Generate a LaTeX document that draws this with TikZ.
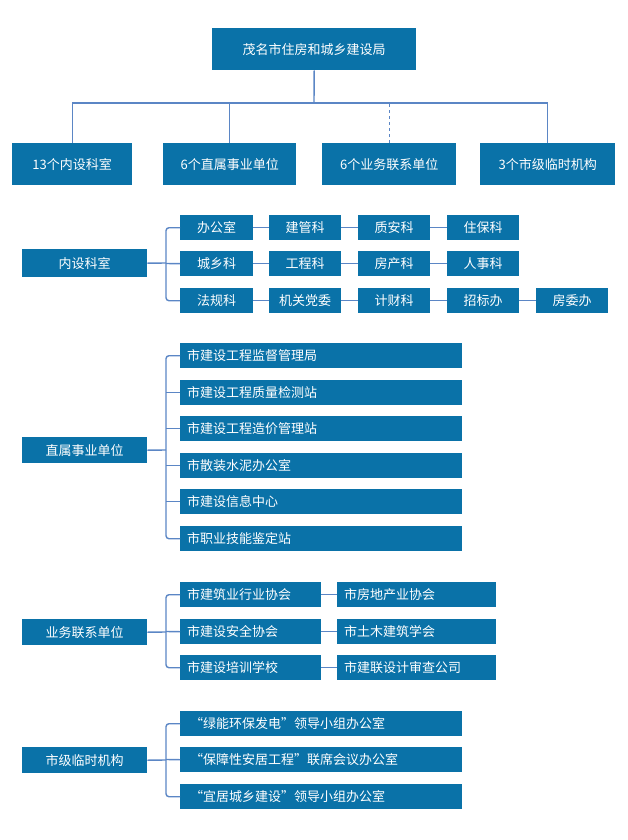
\documentclass[tikz,border=0pt]{standalone}
\usepackage{fontspec}
\newfontfamily\cjk{Noto Sans CJK SC}
\begin{document}
\begin{tikzpicture}[x=1pt,y=-1pt,
  bx/.style={fill=boxc,draw=none,text=white,inner sep=0pt,font=\cjk\fontsize{13}{15}\selectfont},
  ln/.style={draw=linec,line width=1.4pt},
  rl/.style={ln,rounded corners=3pt}]
\definecolor{boxc}{HTML}{0A72A8}
\definecolor{linec}{HTML}{5B86C5}
\useasboundingbox (0,0) rectangle (628,840);
\newcommand\bxc[6]{\node[bx,minimum width=#3-#2,minimum height=#5-#4,anchor=north west] (#1) at (#2,#4) {#6};}
\newcommand\bxl[6]{\node[bx,minimum width=#3-#2,minimum height=#5-#4,anchor=north west,text width=#3-#2-14pt,align=left,inner xsep=7pt] (#1) at (#2,#4) {#6};}
% top
\bxc{top}{212}{416}{28}{70}{茂名市住房和城乡建设局}
\bxc{c1}{12}{132}{143}{185}{13个内设科室}
\bxc{c2}{163}{296}{143}{185}{6个直属事业单位}
\bxc{c3}{322}{456}{143}{185}{6个业务联系单位}
\bxc{c4}{480}{615}{143}{185}{3个市级临时机构}
\coordinate (hub) at (314,103);
\draw[ln] (top.south) -- (hub);
\draw[ln] (c1.north) |- (hub) -| (c4.north);
\draw[ln] (c2.north) -- (c2.north|-hub);
\draw[ln,dashed] (c3.north) -- (c3.north|-hub);
% section 1
\bxc{s1}{22}{147}{249}{277}{内设科室}
\bxc{a1}{180}{253}{215}{240}{办公室}
\bxc{a2}{269}{341}{215}{240}{建管科}
\bxc{a3}{358}{430}{215}{240}{质安科}
\bxc{a4}{447}{519}{215}{240}{住保科}
\bxc{b1}{180}{253}{251}{276}{城乡科}
\bxc{b2}{269}{341}{251}{276}{工程科}
\bxc{b3}{358}{430}{251}{276}{房产科}
\bxc{b4}{447}{519}{251}{276}{人事科}
\bxc{d1}{180}{253}{288}{313}{法规科}
\bxc{d2}{269}{341}{288}{313}{机关党委}
\bxc{d3}{358}{430}{288}{313}{计财科}
\bxc{d4}{447}{519}{288}{313}{招标办}
\bxc{d5}{536}{608}{288}{313}{房委办}
\draw[ln] (s1.east) -- (166,263);
\draw[rl] (a1.west) -| (166,263) |- (d1.west);
\draw[ln] (b1.west) -- (166,263.5);
\foreach \r in {a,b}{\foreach \i/\j in {1/2,2/3,3/4}{\draw[ln] (\r\i.east) -- (\r\j.west);}}
\foreach \i/\j in {1/2,2/3,3/4,4/5}{\draw[ln] (d\i.east) -- (d\j.west);}
% section 2
\bxc{s2}{22}{147}{437}{463}{直属事业单位}
\bxl{e1}{180}{462}{343}{368}{市建设工程监督管理局}
\bxl{e2}{180}{462}{380}{405}{市建设工程质量检测站}
\bxl{e3}{180}{462}{416}{441}{市建设工程造价管理站}
\bxl{e4}{180}{462}{453}{478}{市散装水泥办公室}
\bxl{e5}{180}{462}{489}{514}{市建设信息中心}
\bxl{e6}{180}{462}{526}{551}{市职业技能鉴定站}
\draw[ln] (s2.east) -- (166,450);
\draw[rl] (e1.west) -| (166,450) |- (e6.west);
\foreach \i in {2,3,4,5}{\draw[ln] (e\i.west) -- (166,0|-e\i.west);}
% section 3
\bxc{s3}{22}{147}{619}{645}{业务联系单位}
\bxl{f1}{180}{321}{582}{607}{市建筑业行业协会}
\bxl{f2}{180}{321}{619}{644}{市建设安全协会}
\bxl{f3}{180}{321}{655}{680}{市建设培训学校}
\bxl{g1}{337}{496}{582}{607}{市房地产业协会}
\bxl{g2}{337}{496}{619}{644}{市土木建筑学会}
\bxl{g3}{337}{496}{655}{680}{市建联设计审查公司}
\draw[ln] (s3.east) -- (166,632);
\draw[rl] (f1.west) -| (166,632) |- (f3.west);
\draw[ln] (f2.west) -- (166,631.5);
\foreach \i in {1,2,3}{\draw[ln] (f\i.east) -- (g\i.west);}
% section 4
\bxc{s4}{22}{147}{747}{773}{市级临时机构}
\bxl{h1}{180}{462}{711}{736}{\hspace{3pt}“绿能环保发电”领导小组办公室}
\bxl{h2}{180}{462}{747}{772}{\hspace{3pt}“保障性安居工程”联席会议办公室}
\bxl{h3}{180}{462}{784}{809}{\hspace{3pt}“宜居城乡建设”领导小组办公室}
\draw[ln] (s4.east) -- (166,760);
\draw[rl] (h1.west) -| (166,760) |- (h3.west);
\draw[ln] (h2.west) -- (166,759.5);
\end{tikzpicture}
\end{document}
